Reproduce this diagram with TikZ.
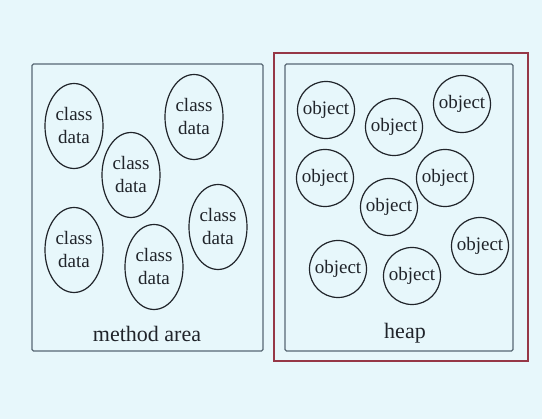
\documentclass[tikz,border=0pt]{standalone}
\usepackage{fontspec}
\setmainfont{Liberation Serif}
\usetikzlibrary{shapes.geometric}
\definecolor{slidebg}{RGB}{231,247,251}
\definecolor{boxline}{RGB}{88,104,116}
\definecolor{heapred}{RGB}{150,55,70}
\definecolor{inkgray}{RGB}{32,36,42}

\begin{document}
\begin{tikzpicture}[x=1pt,y=-1pt,
  classdata/.style={draw=inkgray,line width=1.2pt,ellipse,minimum width=58pt,minimum height=85pt,inner sep=0pt,align=center,text=inkgray,font=\fontsize{19}{23}\selectfont},
  heapobj/.style={draw=inkgray,line width=1.2pt,circle,minimum size=57pt,inner sep=0pt,text=inkgray,font=\fontsize{19}{23}\selectfont},
  arealabel/.style={text=inkgray,font=\fontsize{22}{26}\selectfont}]
% Background
\fill[slidebg] (0,0) rectangle (542,419);

% Method area
\draw[boxline,line width=1.3pt,rounded corners=1.5pt] (32,64) rectangle (263,351);
\node[classdata] (cd1) at (74,126) {class\\data};
\node[classdata] (cd2) at (194,117) {class\\data};
\node[classdata] (cd3) at (131,175) {class\\data};
\node[classdata] (cd4) at (218,227) {class\\data};
\node[classdata] (cd5) at (74,250) {class\\data};
\node[classdata] (cd6) at (154,267) {class\\data};
\node[arealabel] (methodlabel) at (147,334) {method area};

% Heap
\draw[heapred,line width=1.5pt] (274,53) rectangle (528,361);
\draw[boxline,line width=1.3pt,rounded corners=1.5pt] (285,64) rectangle (513,351);
\node[heapobj] (ob1) at (326,110) {object};
\node[heapobj] (ob2) at (394,127) {object};
\node[heapobj] (ob3) at (462,104) {object};
\node[heapobj] (ob4) at (325,178) {object};
\node[heapobj] (ob5) at (445,178) {object};
\node[heapobj] (ob6) at (389,207) {object};
\node[heapobj] (ob7) at (480,246) {object};
\node[heapobj] (ob8) at (338,269) {object};
\node[heapobj] (ob9) at (412,276) {object};
\node[arealabel] (heaplabel) at (405,333) {heap};
\end{tikzpicture}
\end{document}
